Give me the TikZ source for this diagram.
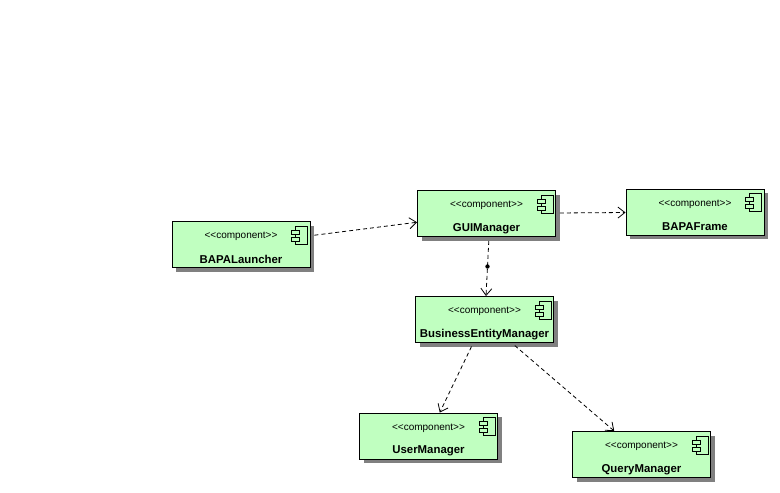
\documentclass[tikz,border=0pt]{standalone}
\usepackage{fontspec}
\setmainfont{Liberation Sans}
\usetikzlibrary{shadows,arrows.meta,calc}
\definecolor{compfill}{RGB}{192,255,192}
\definecolor{shadowgray}{RGB}{128,128,128}
\newcommand\stereo{<\kern0pt<\kern0pt component>\kern0pt>}
\tikzset{
 comp/.style={draw=black, line width=0.9pt, fill=compfill, minimum width=138pt, minimum height=46pt, inner sep=0pt,
   drop shadow={shadow xshift=4pt, shadow yshift=-4pt, fill=shadowgray, opacity=1}},
 stereotxt/.style={font=\fontsize{10}{11}\selectfont, inner sep=0pt},
 nametxt/.style={font=\fontsize{11.4}{13}\selectfont\bfseries, inner sep=0pt},
 dep/.style={draw=black, line width=0.8pt, dash pattern=on 4pt off 3pt, -{Straight Barb[length=7pt,width=11pt]}, shorten <=4pt},
 iconpart/.style={draw=black, line width=0.8pt, fill=compfill}
}
\newcommand\compbox[3]{%
 \node[comp] (#1) at (#2) {};
 \node[stereotxt] (#1-st) at ($(#1.north)+(0,15.5)$) {\stereo};
 \node[nametxt] (#1-nm) at ($(#1.north)+(0,38.5)$) {#3};
 \draw[iconpart] ($(#1.north east)+(-15,5)$) rectangle ($(#1.north east)+(-3,23)$);
 \draw[iconpart] ($(#1.north east)+(-19,9)$) rectangle ($(#1.north east)+(-11,13)$);
 \draw[iconpart] ($(#1.north east)+(-19,16)$) rectangle ($(#1.north east)+(-11,20)$);
}
\begin{document}
\begin{tikzpicture}[x=1pt,y=-1pt]
\useasboundingbox (0,0) rectangle (780,493);
\compbox{launcher}{241,244.5}{BAPALauncher}
\compbox{gui}{486.5,213.5}{GUIManager}
\compbox{frame}{695,212}{BAPAFrame}
\compbox{bem}{484.5,319.5}{BusinessEntityManager}
\compbox{user}{428.5,436}{UserManager}
\compbox{query}{641.5,454.5}{QueryManager}
\draw[dep] (launcher) -- (gui);
\draw[dep] (gui) -- (frame);
\coordinate (gs) at ($(gui.south)+(2.5,0)$);
\coordinate (bn) at ($(bem.north)+(1.5,0)$);
\draw[dep] (gs) -- (bn);
\fill ($(gs)!0.5!(bn)$) circle (2.2pt);
\draw[dep] (bem) -- (user);
\draw[dep] (bem) -- (query);
\end{tikzpicture}
\end{document}
